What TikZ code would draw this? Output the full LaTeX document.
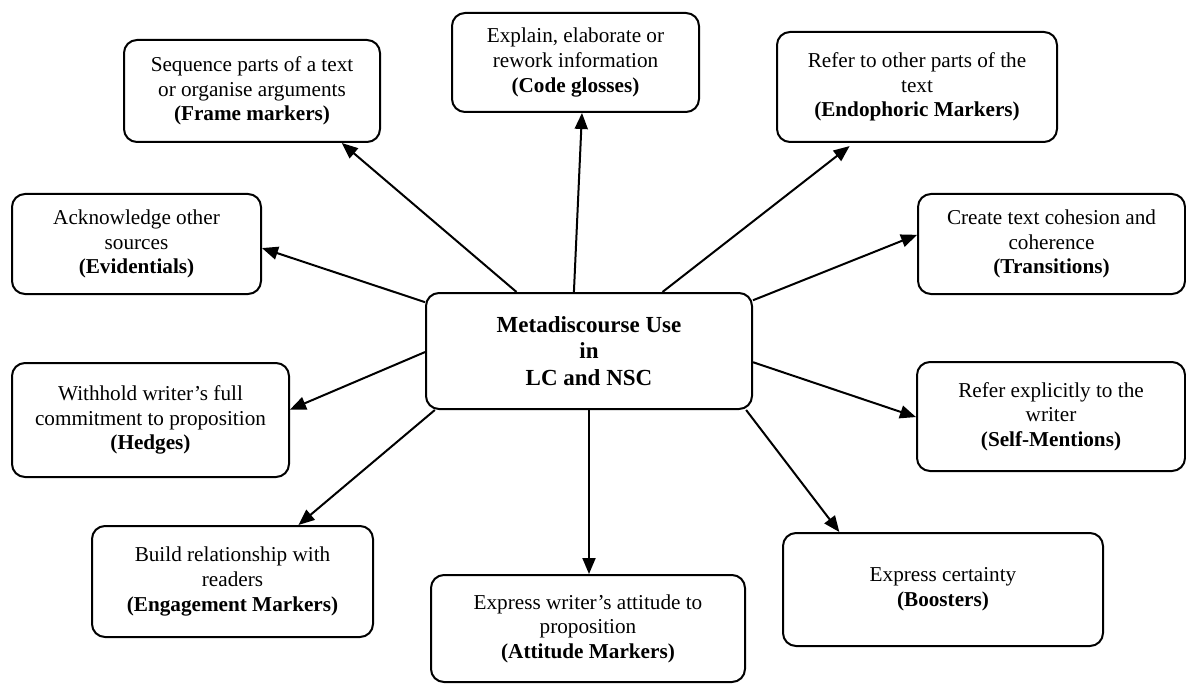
\documentclass[tikz,border=0pt]{standalone}
\usepackage{fontspec}
\setmainfont{Liberation Serif}
\usetikzlibrary{arrows.meta,calc}
\tikzset{
  mbox/.style={draw, line width=1pt, rounded corners=6.5pt, align=center, inner sep=0pt,
    font=\fontsize{10.6}{12.3}\selectfont},
  cbox/.style={mbox, font=\fontsize{11.5}{13.2}\selectfont\bfseries},
  arr/.style={line width=1pt, -{Triangle[length=8pt,width=6.5pt]}}
}
\begin{document}
\begin{tikzpicture}[x=0.5pt,y=-0.5pt]
\useasboundingbox[fill=white] (0,0) rectangle (1186,684);
\node[cbox, minimum width=163pt, minimum height=58pt] (c) at (589,351) {Metadiscourse Use\\in\\LC and NSC};
\node[mbox, minimum width=128pt, minimum height=51pt] (frame) at (252,91) {Sequence parts of a text\\or organise arguments\\\textbf{(Frame markers)}};
\node[mbox, minimum width=123.5pt, minimum height=49.5pt] (code) at (575.5,62.5) {Explain, elaborate or\\rework information\\\textbf{(Code glosses)}};
\node[mbox, minimum width=140pt, minimum height=55pt] (endo) at (917,87) {Refer to other parts of the\\text\\\textbf{(Endophoric Markers)}};
\node[mbox, minimum width=124.5pt, minimum height=50pt] (evid) at (136.5,244) {Acknowledge other\\sources\\\textbf{(Evidentials)}};
\node[mbox, minimum width=133.5pt, minimum height=50pt] (trans) at (1051.5,244) {Create text cohesion and\\coherence\\\textbf{(Transitions)}};
\node[mbox, minimum width=138.5pt, minimum height=57pt] (hedges) at (150.5,420) {Withhold writer’s full\\commitment to proposition\\\textbf{(Hedges)}};
\node[mbox, minimum width=134pt, minimum height=54.5pt] (self) at (1051,416.5) {Refer explicitly to the\\writer\\\textbf{(Self-Mentions)}};
\node[mbox, minimum width=140.5pt, minimum height=55.5pt] (engage) at (232.5,581.5) {Build relationship with\\readers\\\textbf{(Engagement Markers)}};
\node[mbox, minimum width=157pt, minimum height=53.5pt] (att) at (588,628.5) {Express writer’s attitude to\\proposition\\\textbf{(Attitude Markers)}};
\node[mbox, minimum width=160pt, minimum height=56.5pt] (boost) at (943,589.5) {Express certainty\\\textbf{(Boosters)}};
\draw[arr] ($(c.north west)!0.279!(c.north east)$) -- ($(frame.south west)!0.848!(frame.south east)$);
\draw[arr] ($(c.north west)!0.454!(c.north east)$) -- ($(code.south west)!0.526!(code.south east)$);
\draw[arr, shorten >=2.5pt] ($(c.north west)!0.724!(c.north east)$) -- ($(endo.south west)!0.275!(endo.south east)$);
\draw[arr] ($(c.north west)!0.086!(c.south west)$) -- ($(evid.north east)!0.54!(evid.south east)$);
\draw[arr] ($(c.north east)!0.07!(c.south east)$) -- ($(trans.north west)!0.41!(trans.south west)$);
\draw[arr] ($(c.north west)!0.509!(c.south west)$) -- ($(hedges.north east)!0.41!(hedges.south east)$);
\draw[arr] ($(c.north east)!0.595!(c.south east)$) -- ($(self.north west)!0.505!(self.south west)$);
\draw[arr] ($(c.south west)!0.03!(c.south east)$) -- ($(engage.north west)!0.733!(engage.north east)$);
\draw[arr] (c.south) -- (c.south |- att.north);
\draw[arr] ($(c.south west)!0.979!(c.south east)$) -- ($(boost.north west)!0.178!(boost.north east)$);
\end{tikzpicture}
\end{document}
